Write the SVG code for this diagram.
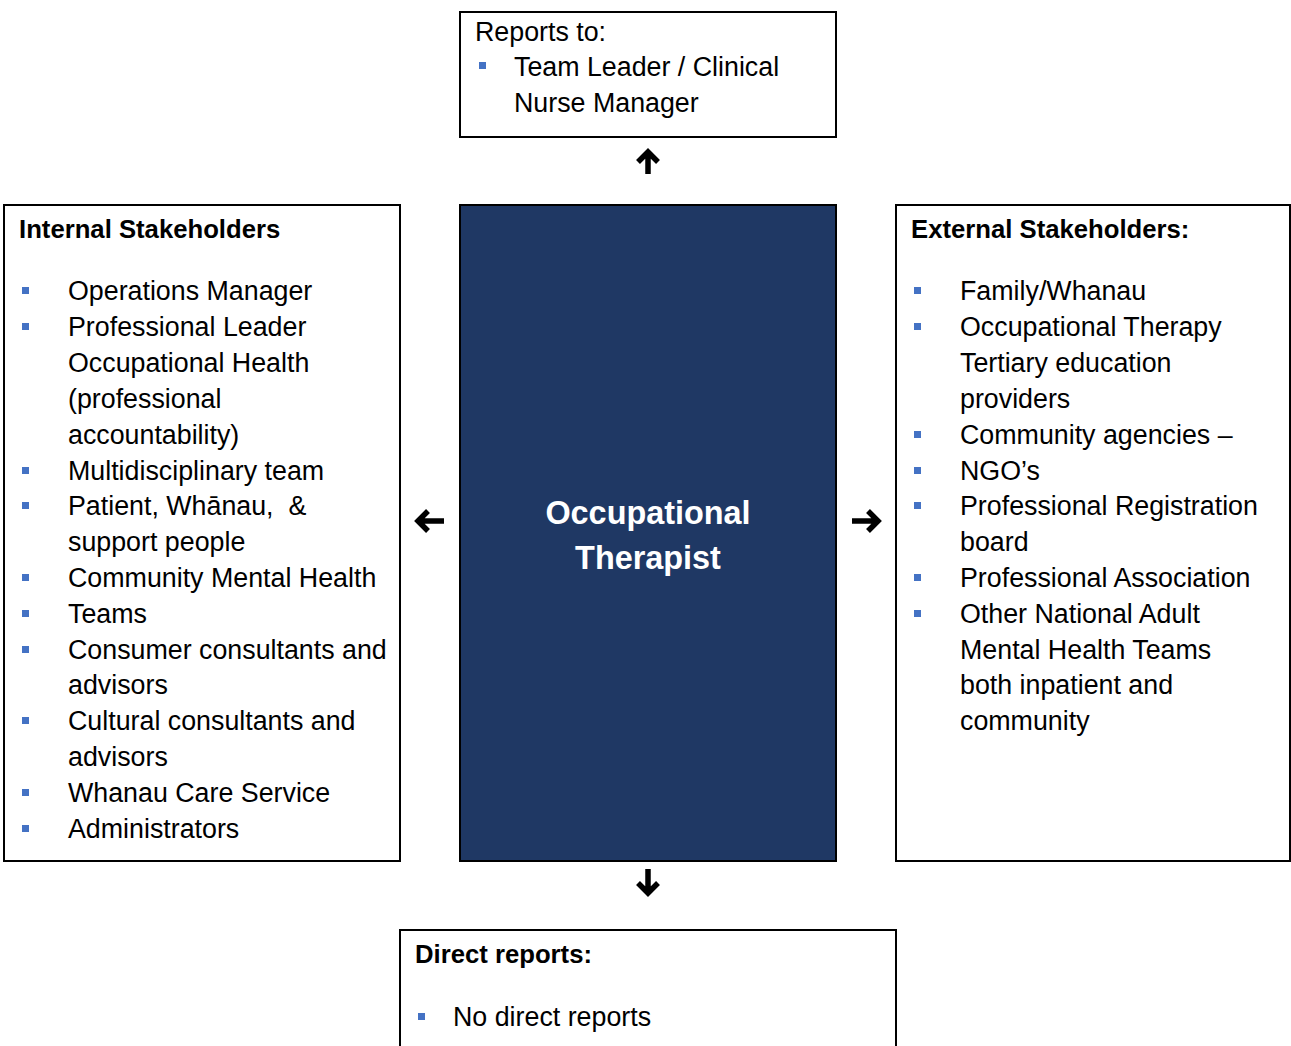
<svg xmlns="http://www.w3.org/2000/svg" width="1291" height="1046" viewBox="0 0 1291 1046">
<style>
.box{fill:#fff;stroke:#000;stroke-width:2}
.core{fill:#1F3864;stroke:#000;stroke-width:2}
.t{font-family:"Liberation Sans",Arial,sans-serif;font-size:26.8px;fill:#000}
.h{font-family:"Liberation Sans",Arial,sans-serif;font-size:25.7px;font-weight:bold;fill:#000}
.title{font-family:"Liberation Sans",Arial,sans-serif;font-size:32.4px;font-weight:bold;fill:#fff;text-anchor:middle}
.b{fill:#4472C4}
.arr{fill:none;stroke:#000;stroke-width:5.5}
</style>
<rect width="1291" height="1046" fill="#fff"/>
<g id="reports-to">
<rect class="box" x="460" y="12" width="376" height="125"/>
<text class="t" x="475" y="41">Reports to:</text>
<rect class="b" x="479" y="62" width="7" height="7"/>
<text class="t" x="514" y="76">Team Leader / Clinical</text>
<text class="t" x="514" y="112">Nurse Manager</text>
</g>
<g id="internal">
<rect class="box" x="4" y="205" width="396" height="656"/>
<text class="h" x="19" y="238">Internal Stakeholders</text>
<g>
<rect class="b" x="22" y="287" width="7" height="7"/>
<rect class="b" x="22" y="323" width="7" height="7"/>
<rect class="b" x="22" y="467" width="7" height="7"/>
<rect class="b" x="22" y="502" width="7" height="7"/>
<rect class="b" x="22" y="574" width="7" height="7"/>
<rect class="b" x="22" y="610" width="7" height="7"/>
<rect class="b" x="22" y="646" width="7" height="7"/>
<rect class="b" x="22" y="717" width="7" height="7"/>
<rect class="b" x="22" y="789" width="7" height="7"/>
<rect class="b" x="22" y="825" width="7" height="7"/>
</g>
<text class="t" x="68" y="300">Operations Manager</text>
<text class="t" x="68" y="336">Professional Leader</text>
<text class="t" x="68" y="372">Occupational Health</text>
<text class="t" x="68" y="408">(professional</text>
<text class="t" x="68" y="444">accountability)</text>
<text class="t" x="68" y="480">Multidisciplinary team</text>
<text class="t" x="68" y="515" xml:space="preserve">Patient, Whānau,  &amp;</text>
<text class="t" x="68" y="551">support people</text>
<text class="t" x="68" y="587">Community Mental Health</text>
<text class="t" x="68" y="623">Teams</text>
<text class="t" x="68" y="659">Consumer consultants and</text>
<text class="t" x="68" y="694">advisors</text>
<text class="t" x="68" y="730">Cultural consultants and</text>
<text class="t" x="68" y="766">advisors</text>
<text class="t" x="68" y="802">Whanau Care Service</text>
<text class="t" x="68" y="838">Administrators</text>
</g>
<g id="occupational-therapist">
<rect class="core" x="460" y="205" width="376" height="656"/>
<text class="title" x="648" y="524">Occupational</text>
<text class="title" x="648" y="569">Therapist</text>
</g>
<g id="external">
<rect class="box" x="896" y="205" width="394" height="656"/>
<text class="h" x="911" y="238">External Stakeholders:</text>
<g>
<rect class="b" x="914" y="287" width="7" height="7"/>
<rect class="b" x="914" y="323" width="7" height="7"/>
<rect class="b" x="914" y="431" width="7" height="7"/>
<rect class="b" x="914" y="467" width="7" height="7"/>
<rect class="b" x="914" y="502" width="7" height="7"/>
<rect class="b" x="914" y="574" width="7" height="7"/>
<rect class="b" x="914" y="610" width="7" height="7"/>
</g>
<text class="t" x="960" y="300">Family/Whanau</text>
<text class="t" x="960" y="336">Occupational Therapy</text>
<text class="t" x="960" y="372">Tertiary education</text>
<text class="t" x="960" y="408">providers</text>
<text class="t" x="960" y="444">Community agencies –</text>
<text class="t" x="960" y="480">NGO’s</text>
<text class="t" x="960" y="515">Professional Registration</text>
<text class="t" x="960" y="551">board</text>
<text class="t" x="960" y="587">Professional Association</text>
<text class="t" x="960" y="623">Other National Adult</text>
<text class="t" x="960" y="659">Mental Health Teams</text>
<text class="t" x="960" y="694">both inpatient and</text>
<text class="t" x="960" y="730">community</text>
</g>
<g id="direct-reports">
<rect class="box" x="400" y="930" width="496" height="130"/>
<text class="h" x="415" y="963">Direct reports:</text>
<rect class="b" x="418" y="1013" width="7" height="7"/>
<text class="t" x="453" y="1026">No direct reports</text>
</g>
<g id="connectors">
<path class="arr" d="M648 174V154M638 162L648 152L658 162"/>
<path class="arr" d="M444 521H420M428 511L418 521L428 531"/>
<path class="arr" d="M852 521H876M868 511L878 521L868 531"/>
<path class="arr" d="M648 869V891M638 883L648 893L658 883"/>
</g>
</svg>
